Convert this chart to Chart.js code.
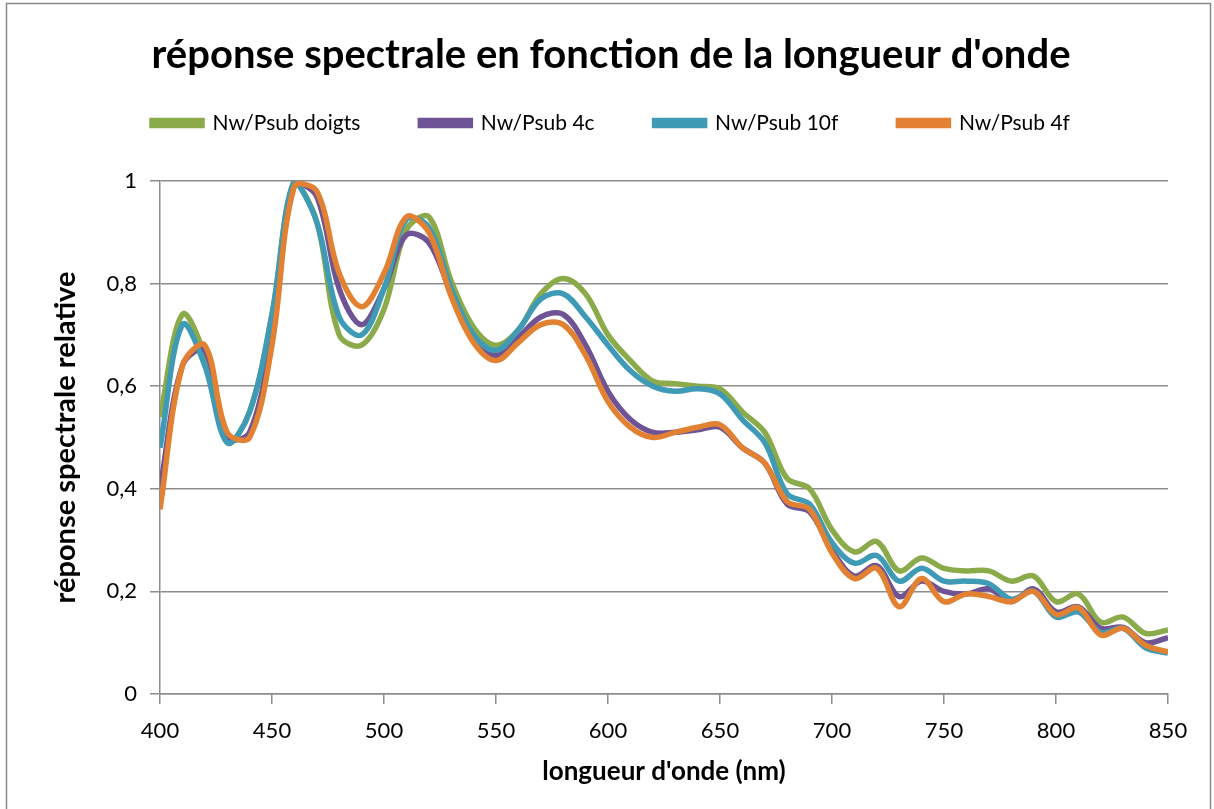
<!DOCTYPE html>
<html>
<head>
<meta charset="utf-8">
<script src="https://cdn.jsdelivr.net/npm/chart.js@4"></script>
<style>
  html, body { margin: 0; padding: 0; background: #fff; }
  #wrap { width: 1214px; height: 809px; }
</style>
</head>
<body>
<div id="wrap"><canvas id="spectre" width="1214" height="809"></canvas></div>
<script>
var wavelengths = [400, 410, 420, 430, 440, 450, 460, 470, 480, 490, 500, 510, 520, 530, 540, 550,
                   560, 570, 580, 590, 600, 610, 620, 630, 640, 650, 660, 670, 680, 690, 700, 710,
                   720, 730, 740, 750, 760, 770, 780, 790, 800, 810, 820, 830, 840, 850];

var doigts = [0.54, 0.74, 0.66, 0.49, 0.55, 0.74, 1.0, 0.92, 0.70, 0.68, 0.75, 0.905, 0.93, 0.805, 0.715, 0.68,
              0.71, 0.78, 0.81, 0.78, 0.70, 0.65, 0.61, 0.605, 0.60, 0.595, 0.55, 0.51, 0.42, 0.40, 0.32, 0.277,
              0.297, 0.24, 0.265, 0.245, 0.24, 0.24, 0.22, 0.23, 0.18, 0.195, 0.14, 0.15, 0.118, 0.125];
var psub4c = [0.40, 0.64, 0.67, 0.50, 0.51, 0.70, 1.0, 0.97, 0.79, 0.72, 0.79, 0.895, 0.88, 0.78, 0.69, 0.66,
              0.695, 0.735, 0.74, 0.68, 0.59, 0.535, 0.51, 0.51, 0.515, 0.52, 0.48, 0.45, 0.37, 0.355, 0.28, 0.23,
              0.25, 0.19, 0.22, 0.20, 0.195, 0.205, 0.18, 0.205, 0.16, 0.17, 0.128, 0.13, 0.10, 0.11];
var psub10f = [0.48, 0.72, 0.64, 0.49, 0.55, 0.74, 1.0, 0.92, 0.735, 0.70, 0.79, 0.925, 0.91, 0.79, 0.70, 0.67,
               0.71, 0.77, 0.78, 0.735, 0.68, 0.63, 0.60, 0.59, 0.595, 0.585, 0.535, 0.49, 0.39, 0.37, 0.295, 0.255,
               0.27, 0.22, 0.245, 0.22, 0.22, 0.215, 0.185, 0.20, 0.15, 0.16, 0.12, 0.128, 0.09, 0.08];
var psub4f = [0.36, 0.64, 0.68, 0.51, 0.50, 0.68, 0.99, 0.98, 0.82, 0.755, 0.82, 0.93, 0.90, 0.775, 0.685, 0.65,
              0.685, 0.72, 0.72, 0.66, 0.57, 0.52, 0.50, 0.51, 0.52, 0.525, 0.48, 0.45, 0.375, 0.36, 0.275, 0.225,
              0.245, 0.17, 0.225, 0.18, 0.195, 0.19, 0.18, 0.20, 0.155, 0.168, 0.115, 0.128, 0.095, 0.082];

var seriesNames = ["Nw/Psub doigts", "Nw/Psub 4c", "Nw/Psub 10f", "Nw/Psub 4f"];
var seriesColors = ['#8BAA4A', '#6F5495', '#3F9BB5', '#E38132'];
var seriesValues = [doigts, psub4c, psub10f, psub4f];

var gridGray = '#8c8c8c';

function toPoints(values) {
    return wavelengths.map(function(w, i) { return {x: w, y: values[i]}; });
}

var datasets = seriesValues.map(function(values, i) {
    return {
        label: seriesNames[i],
        data: toPoints(values),
        xAxisID: 'x',
        yAxisID: 'y',
        borderColor: seriesColors[i],
        backgroundColor: seriesColors[i],
        borderWidth: 5.5,
        pointRadius: 0,
        tension: 0.35,
        fill: false,
        order: 3 - i   // orange drawn on top
    };
});

// white background + outer frame, like the Excel chart area
var frame = {
    id: 'frame',
    beforeDraw: function(chart) {
        var ctx = chart.ctx;
        ctx.save();
        ctx.fillStyle = '#fff';
        ctx.fillRect(0, 0, chart.width, chart.height);
        ctx.strokeStyle = '#8a8a8a';
        ctx.lineWidth = 1.5;
        ctx.strokeRect(6.5, 3.5, 1204, 810);
        ctx.restore();
    }
};

// empty spacer axes, only used to reserve room around the plot
function spacer(pos, size) {
    return {
        type: 'linear',
        position: pos,
        display: true,
        grid: { display: false },
        ticks: { display: false },
        border: { display: false },
        afterFit: function(s) {
            if (pos === 'top') { s.height = size; } else { s.width = size; }
        }
    };
}

var myChart = new Chart(document.getElementById('spectre'), {
    type: 'line',
    data: { datasets: datasets },
    plugins: [frame],
    options: {
        responsive: false,
        animation: false,
        layout: { padding: { left: 14, right: 6, top: 0, bottom: 10 } },
        plugins: {
            title: {
                display: true,
                text: "réponse spectrale en fonction de la longueur d'onde",
                color: '#000',
                font: { family: 'Lato', size: 40, weight: 'bold' },
                padding: { top: 31, bottom: -26.5 }
            },
            legend: {
                display: true,
                labels: {
                    color: '#000',
                    font: { family: 'Lato', size: 21 },
                    boxWidth: 50,
                    boxHeight: 5,
                    padding: 60,
                    sort: function(a, b) { return a.datasetIndex - b.datasetIndex; }
                }
            },
            tooltip: { enabled: false }
        },
        scales: {
            x: {
                type: 'linear',
                min: 400,
                max: 850,
                afterFit: function(s) { s.height = 105; },
                ticks: {
                    stepSize: 50,
                    color: '#000',
                    font: { family: 'Lato', size: 22 },
                    padding: 14
                },
                grid: { drawOnChartArea: false, drawTicks: true, tickLength: 10, color: gridGray, lineWidth: 1.5 },
                border: { color: gridGray, width: 1.5 },
                title: {
                    display: true,
                    text: "longueur d'onde (nm)",
                    color: '#000',
                    font: { family: 'Lato', size: 26, weight: 'bold' },
                    padding: { top: 4, bottom: 12 }
                }
            },
            y: {
                min: 0,
                max: 1,
                afterFit: function(s) { s.width = 146; },
                ticks: {
                    stepSize: 0.2,
                    color: '#000',
                    font: { family: 'Lato', size: 22 },
                    padding: 13,
                    callback: function(v) { return String(Math.round(v * 10) / 10).replace('.', ','); }
                },
                grid: { color: gridGray, lineWidth: 1.5, tickLength: 10 },
                border: { color: gridGray, width: 1.5 },
                title: {
                    display: true,
                    text: 'réponse spectrale relative',
                    color: '#000',
                    font: { family: 'Lato', size: 29, weight: 'bold' },
                    padding: { top: 34, bottom: 4 }
                }
            },
            xTop: spacer('top', 37.5),
            yRight: spacer('right', 40)
        }
    }
});
</script>
</body>
</html>
